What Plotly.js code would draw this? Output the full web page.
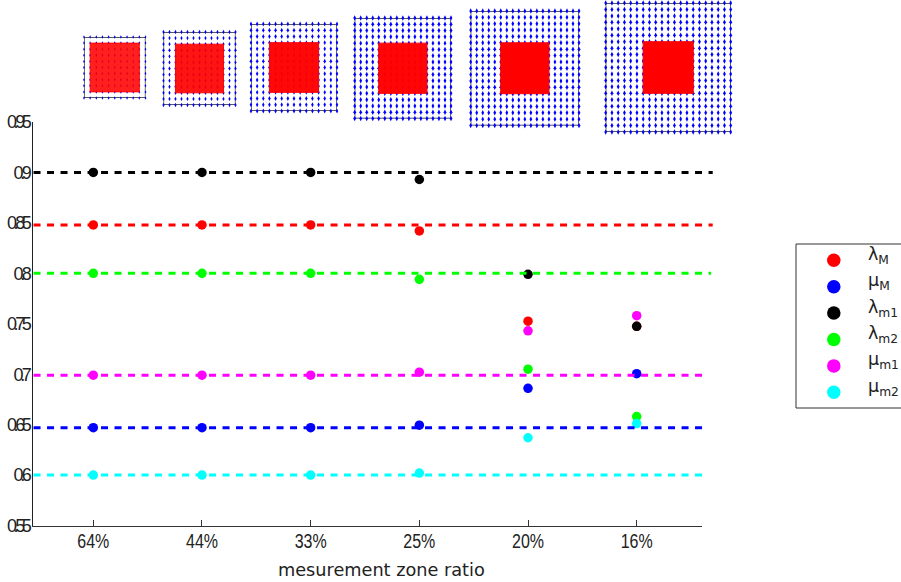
<!DOCTYPE html>
<html>
<head>
<meta charset="utf-8">
<script src="https://cdn.plot.ly/plotly-3.0.1.min.js"></script>
<style>
html,body{margin:0;padding:0;background:#fff;overflow:hidden}
#chart{width:901px;height:582px}
.ytick text{letter-spacing:-3.4px !important}
</style>
</head>
<body>
<div id="chart"></div>
<script>
// ---- data ----
var categories = [1, 2, 3, 4, 5, 6];
var tickLabels = ['64%', '44%', '33%', '25%', '20%', '16%'];
var yTicks = [0.55, 0.6, 0.65, 0.7, 0.75, 0.8, 0.85, 0.9, 0.95];
var yTickLabels = ['0.55', '0.6', '0.65', '0.7', '0.75', '0.8', '0.85', '0.9', '0.95'];

var lambdaM = [0.848, 0.848, 0.848, 0.842, 0.7525, 0.7475];
var muM     = [0.647, 0.647, 0.647, 0.6495, 0.686, 0.7005];
var lambdaM1 = [0.9, 0.9, 0.9, 0.893, 0.799, 0.7475];
var lambdaM2 = [0.8, 0.8, 0.8, 0.794, 0.705, 0.658];
var muM1    = [0.699, 0.699, 0.699, 0.702, 0.743, 0.758];
var muM2    = [0.6, 0.6, 0.6, 0.602, 0.637, 0.651];

var refLevels = [0.9, 0.848, 0.8, 0.699, 0.647, 0.6];
var refEnds   = [6.70, 6.70, 6.685, 6.65, 6.66, 6.63];
var refColors = ['#000000', '#ff0000', '#00ff00', '#ff00ff', '#0000ff', '#00ffff'];

var seriesNames = ['λ<sub>M</sub>', 'μ<sub>M</sub>', 'λ<sub>m1</sub>', 'λ<sub>m2</sub>', 'μ<sub>m1</sub>', 'μ<sub>m2</sub>'];
var seriesValues = [lambdaM, muM, lambdaM1, lambdaM2, muM1, muM2];
var seriesColors = ['#ff0000', '#0000ff', '#000000', '#00ff00', '#ff00ff', '#00ffff'];

var insetIntervals = [10, 12, 14, 16, 18, 20];
var zoneIntervals = 8;
var legendRows = [6, 5, 4, 3, 2, 1];
var xTitle = 'mesurement zone ratio';

// ---- layout constants (pixels) ----
var W = 901, H = 582;
var insetBoxes = [
  [84, 145.5, 37, 98],
  [163.5, 235.5, 32, 105],
  [251, 337, 24, 111],
  [354.7, 451, 18, 118.5],
  [470.7, 579, 11, 125.5],
  [605.7, 730.7, 3, 132]
];
var zoneAlpha = [0.88, 0.92, 0.97, 0.98, 1, 1];
var dotSizes = [2.5, 3.1, 3.5, 3.9, 3.9, 3.9];
function dx(a, b) { return [a / W, b / W]; }
function dy(t, b) { return [1 - b / H, 1 - t / H]; }

var traces = [];
seriesValues.forEach(function (vals, i) {
  traces.push({
    x: categories, y: vals, mode: 'markers', type: 'scatter', cliponaxis: false,
    marker: { color: seriesColors[i], size: 9.5 }, showlegend: false, hoverinfo: 'skip'
  });
});

var layout = {
  width: W, height: H, margin: { l: 0, r: 0, t: 0, b: 0 }, showlegend: false,
  paper_bgcolor: '#fff', plot_bgcolor: 'rgba(0,0,0,0)',
  xaxis: {
    domain: dx(33, 702), range: [0.445, 6.601], tickvals: categories, ticktext: tickLabels,
    ticks: 'inside', ticklen: 6, tickcolor: '#333', showgrid: false, zeroline: false,
    showline: true, linecolor: '#333', linewidth: 1.5, ticklabelstandoff: -3,
    tickfont: { family: 'Liberation Sans', size: 20, color: '#222' }
  },
  yaxis: {
    domain: dy(122, 525.5), range: [0.55, 0.95], tickvals: yTicks, ticktext: yTickLabels,
    ticks: '', showgrid: false, zeroline: false, showline: true, linecolor: '#222', linewidth: 1,
    tickfont: { family: 'Liberation Sans', size: 18, color: '#222' }
  },
  shapes: [{
    type: 'rect', xref: 'paper', yref: 'paper', x0: 796 / W, x1: 1.01,
    y0: 1 - 408 / H, y1: 1 - 244 / H, line: { color: '#333', width: 1 }, fillcolor: '#fff', layer: 'below'
  }],
  annotations: [{
    xref: 'paper', yref: 'paper', x: 381.5 / W, y: 1 - 570 / H, text: xTitle, showarrow: false,
    xanchor: 'center', yanchor: 'middle', font: { family: 'DejaVu Sans', size: 17.7, color: '#222' }
  }]
};

// inset lattice diagrams
insetIntervals.forEach(function (n, k) {
  var id = k + 2, xn = 'x' + id, yn = 'y' + id, b = insetBoxes[k];
  layout['xaxis' + id] = { domain: dx(b[0], b[1]), range: [0, n], visible: false, fixedrange: true, anchor: yn };
  layout['yaxis' + id] = { domain: dy(b[2], b[3]), range: [0, n], visible: false, fixedrange: true, anchor: xn };
  traces.push({
    x: [0, n, n, 0, 0], y: [0, 0, n, n, 0], xaxis: xn, yaxis: yn, mode: 'lines', type: 'scatter',
    line: { color: '#222', width: 1.3 }, showlegend: false, hoverinfo: 'skip'
  });
  var xs = [], ys = [];
  for (var i = 0; i <= n; i++) for (var j = 0; j <= n; j++) { xs.push(i); ys.push(j); }
  traces.push({
    x: xs, y: ys, xaxis: xn, yaxis: yn, mode: 'markers', type: 'scatter', cliponaxis: false,
    marker: { color: '#0000ff', size: dotSizes[k], symbol: 'diamond-tall' }, showlegend: false, hoverinfo: 'skip'
  });
  var a = (n - zoneIntervals) / 2, c = (n + zoneIntervals) / 2, fc = 'rgba(255,0,0,' + zoneAlpha[k] + ')';
  traces.push({
    x: [a, c, c, a, a], y: [a, a, c, c, a], xaxis: xn, yaxis: yn, mode: 'lines', fill: 'toself', type: 'scatter',
    fillcolor: fc, line: { width: 1, color: fc }, showlegend: false, hoverinfo: 'skip'
  });
});

// legend
var lg = insetIntervals.length + 2;
layout['xaxis' + lg] = { domain: dx(796, 901), range: [0, 1], visible: false, fixedrange: true, anchor: 'y' + lg };
layout['yaxis' + lg] = { domain: dy(244, 408), range: [0.405, 6.617], visible: false, fixedrange: true, anchor: 'x' + lg };
seriesNames.forEach(function (name, i) {
  traces.push({
    x: [0.36], y: [legendRows[i]], xaxis: 'x' + lg, yaxis: 'y' + lg, mode: 'markers', type: 'scatter',
    marker: { color: seriesColors[i], size: 13.5 }, showlegend: false, hoverinfo: 'skip'
  });
  layout.annotations.push({
    xref: 'x' + lg, yref: 'y' + lg, x: 0.67, y: legendRows[i], yshift: 5, text: name, showarrow: false,
    xanchor: 'left', yanchor: 'middle', align: 'left', font: { family: 'DejaVu Sans', size: 17.5, color: '#222' }
  });
});

// dashed reference lines on a wider hidden x axis with the same scale, so they overrun the plot area
var ov = lg + 1;
layout['xaxis' + ov] = { domain: dx(33, 720), range: [0.445, 6.767], visible: false, fixedrange: true, anchor: 'y' };
refLevels.forEach(function (lv, i) {
  traces.push({
    x: [0.45, refEnds[i]], y: [lv, lv], xaxis: 'x' + ov, yaxis: 'y', mode: 'lines', type: 'scatter',
    line: { color: refColors[i], width: 3, dash: '7px,6.5px' }, showlegend: false, hoverinfo: 'skip'
  });
});

Plotly.newPlot('chart', traces, layout, { displayModeBar: false, staticPlot: true }).then(function (gd) {
  // the reference's x tick labels are set in a narrow face: squeeze the glyphs
  gd.querySelectorAll('.xtick text').forEach(function (t) {
    t.setAttribute('textLength', '32');
    t.setAttribute('lengthAdjust', 'spacingAndGlyphs');
  });
});
</script>
</body>
</html>
